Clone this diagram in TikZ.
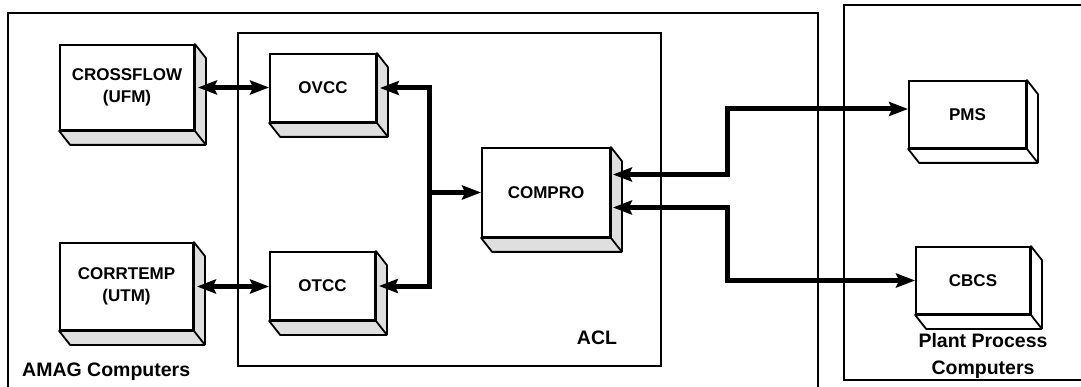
\documentclass[tikz,border=0pt]{standalone}
\usepackage{fontspec}
\setmainfont{Liberation Sans}
\usetikzlibrary{arrows.meta,calc}

\begin{document}
\begin{tikzpicture}[x=1pt, y=-1pt, >={Stealth[length=19pt,width=14pt,inset=3pt]},
  group/.style={draw,line width=1.2pt,inner sep=0pt},
  blk/.style={draw,line width=1.8pt,fill=white,align=center,inner sep=0pt,font=\fontsize{17}{22}\selectfont\bfseries},
  face/.style={draw,line width=1.8pt,line join=round},
  conn/.style={line width=5pt},
  glabel/.style={font=\fontsize{19.5}{27}\selectfont\bfseries,align=center,inner sep=0pt}]
\useasboundingbox (0,0) rectangle (1081,387);
% outer groups
\node[group,minimum width=810pt,minimum height=385pt] (amag) at (413,205.5) {};
\node[group,minimum width=423pt,minimum height=333pt] (acl) at (449.5,199.5) {};
\node[group,minimum width=246pt,minimum height=375pt] (plant) at (967,192.5) {};
% blocks
\node[blk,minimum width=134pt,minimum height=85pt] (cross) at (127,87.5) {CROSSFLOW\\(UFM)};
\node[blk,minimum width=133pt,minimum height=87pt] (corr) at (126.5,286.5) {CORRTEMP\\(UTM)};
\node[blk,minimum width=106pt,minimum height=68pt] (ovcc) at (323,88) {OVCC};
\node[blk,minimum width=105pt,minimum height=68pt] (otcc) at (322.5,286) {OTCC};
\node[blk,minimum width=128pt,minimum height=89pt] (compro) at (546,192.5) {COMPRO};
\node[blk,minimum width=117pt,minimum height=67pt] (pms) at (967.5,114.5) {PMS};
\node[blk,minimum width=114pt,minimum height=67pt] (cbcs) at (973,280.5) {CBCS};
% side and bottom faces
\foreach \n/\f in {cross/gray!25,corr/gray!25,ovcc/gray!25,otcc/gray!25,compro/gray!25,pms/white,cbcs/white}{
  \draw[face,fill=\f] (\n.north east) -- ++(11,14) -- ($(\n.south east)+(11,14)$) -- ($(\n.south west)+(11,14)$) -- (\n.south west) -- (\n.south east) -- cycle;
  \draw[face] (\n.south east) -- ++(11,14);
}
% links
\coordinate (jn) at (429,192.5);
\coordinate (ptap) at (727,140);
\coordinate (ctap) at (727,240);
\draw[conn,<->] ([xshift=3pt]cross.east) -- (cross.east -| ovcc.west);
\draw[conn,<->] ([xshift=3pt]corr.east) -- (corr.east -| otcc.west);
\draw[conn,->] (jn) |- ([xshift=3pt]ovcc.east);
\draw[conn,->] (jn) |- ([xshift=3pt]otcc.east);
\draw[conn,->] (jn) -- (compro.west);
\draw[conn,<->] ([xshift=2pt,yshift=18pt]compro.east) -| (ptap) |- ([yshift=5.5pt]pms.west);
\draw[conn,<->] ([xshift=2pt,yshift=-15pt]compro.east) -| (ctap) |- (cbcs.west);
% labels
\node[glabel,anchor=west] (amaglbl) at (22,372) {AMAG Computers};
\node[glabel] (acllbl) at (597,338) {ACL};
\node[glabel] (plantlbl) at (983,356) {Plant Process\\Computers};
\end{tikzpicture}
\end{document}
